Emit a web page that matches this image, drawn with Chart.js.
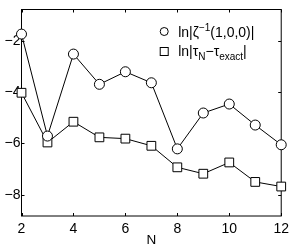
<!DOCTYPE html>
<html>
<head>
<meta charset="utf-8">
<script src="https://cdn.jsdelivr.net/npm/chart.js@4/dist/chart.umd.min.js"></script>
<style>
  html, body { margin: 0; padding: 0; background: #fff; }
</style>
</head>
<body>
<canvas id="chart" width="294" height="246"></canvas>
<script>
// data
var nValues = [2, 3, 4, 5, 6, 7, 8, 9, 10, 11, 12];
var zetaLog = [-1.73, -5.71, -2.51, -3.69, -3.20, -3.63, -6.21, -4.81, -4.46, -5.28, -6.05];
var tauLog  = [-4.02, -5.96, -5.15, -5.76, -5.81, -6.09, -6.93, -7.18, -6.74, -7.50, -7.68];
var xTicks  = [2, 4, 6, 8, 10, 12];
var yTicks  = [-8, -6, -4, -2];

var FONT = '"Liberation Sans", Arial, Helvetica, sans-serif';

function toPoints(ys) {
  return nValues.map(function (n, i) { return { x: n, y: ys[i] }; });
}

// box + inward ticks like matlab axes
var frame = {
  id: 'frame',
  beforeDatasetsDraw: function (chart) {
    var ctx = chart.ctx, a = chart.chartArea, x = chart.scales.x, y = chart.scales.y;
    var len = 3;
    ctx.save();
    ctx.strokeStyle = '#000';
    ctx.lineWidth = 1;
    ctx.strokeRect(a.left, a.top, a.right - a.left, a.bottom - a.top);
    ctx.beginPath();
    x.ticks.forEach(function (t) {
      var px = Math.round(x.getPixelForValue(t.value)) + 0.5;
      ctx.moveTo(px, a.bottom); ctx.lineTo(px, a.bottom - len);
      ctx.moveTo(px, a.top); ctx.lineTo(px, a.top + len);
    });
    y.ticks.forEach(function (t) {
      var py = Math.round(y.getPixelForValue(t.value)) + 0.5;
      ctx.moveTo(a.left, py); ctx.lineTo(a.left + len, py);
      ctx.moveTo(a.right, py); ctx.lineTo(a.right - len, py);
    });
    ctx.stroke();
    ctx.restore();
  }
};

// legend with super/subscripts
var legendBox = {
  id: 'legendBox',
  afterDraw: function (chart) {
    var ctx = chart.ctx, a = chart.chartArea;
    var mx = a.right - 117, tx = a.right - 103;
    var r1 = a.top + 22, r2 = a.top + 42;
    ctx.save();
    ctx.strokeStyle = '#000';
    ctx.fillStyle = '#fff';
    ctx.lineWidth = 1;
    ctx.beginPath(); ctx.arc(mx, r1, 4, 0, Math.PI * 2); ctx.fill(); ctx.stroke();
    ctx.fillRect(mx - 4, r2 - 4, 8, 8); ctx.strokeRect(mx - 4, r2 - 4, 8, 8);

    ctx.fillStyle = '#000';
    ctx.textBaseline = 'alphabetic';
    function run(parts, x0, base) {
      var x = x0;
      parts.forEach(function (p) {
        ctx.font = p[1] + 'px ' + FONT;
        ctx.fillText(p[0], x, base + p[2]);
        x += ctx.measureText(p[0]).width;
      });
    }
    run([['ln|\u03B6', 14, 0], ['\u22121', 10, -6], ['(1,0,0)|', 14, 0]], tx, r1 + 5);
    run([['ln|\u03C4', 14, 0], ['N', 10, 4], ['\u2212\u03C4', 14, 0], ['exact', 10, 4], ['|', 14, 0]], tx, r2 + 4);
    ctx.restore();
  }
};

var ctx = document.getElementById('chart').getContext('2d');
new Chart(ctx, {
  type: 'line',
  data: {
    datasets: [
      {
        label: 'zeta',
        data: toPoints(zetaLog),
        borderColor: '#000',
        borderWidth: 1,
        backgroundColor: '#fff',
        pointStyle: 'circle',
        pointRadius: 5,
        pointBorderWidth: 1,
        pointBackgroundColor: '#fff',
        pointBorderColor: '#000',
        tension: 0,
        clip: false
      },
      {
        label: 'tau',
        data: toPoints(tauLog),
        borderColor: '#000',
        borderWidth: 1,
        backgroundColor: '#fff',
        pointStyle: 'rect',
        pointRadius: 6.2,
        pointBorderWidth: 1,
        pointBackgroundColor: '#fff',
        pointBorderColor: '#000',
        tension: 0,
        clip: false
      }
    ]
  },
  options: {
    responsive: false,
    animation: false,
    events: [],
    layout: { padding: { left: 0, top: 9.5, right: 10.5, bottom: 0 } },
    plugins: {
      legend: { display: false },
      tooltip: { enabled: false }
    },
    scales: {
      x: {
        type: 'linear',
        min: 2,
        max: 12,
        afterBuildTicks: function (s) { s.ticks = xTicks.map(function (v) { return { value: v }; }); },
        afterFit: function (s) { s.height = 30; },
        grid: { display: false, drawTicks: false },
        border: { display: false },
        ticks: { color: '#000', font: { family: FONT, size: 14 }, padding: 5, maxRotation: 0 },
        title: { display: true, text: 'N', color: '#000', font: { family: FONT, size: 13.5 }, padding: { top: 0, bottom: -2 } }
      },
      y: {
        type: 'linear',
        min: -8.83,
        max: -0.77,
        afterBuildTicks: function (s) { s.ticks = yTicks.map(function (v) { return { value: v }; }); },
        afterFit: function (s) { s.width = 21.5; },
        grid: { display: false, drawTicks: false },
        border: { display: false },
        ticks: {
          color: '#000',
          font: { family: FONT, size: 14 },
          padding: 1,
          callback: function (v) { return String(v).replace('-', '\u2212'); }
        }
      }
    }
  },
  plugins: [frame, legendBox]
});
</script>
</body>
</html>
